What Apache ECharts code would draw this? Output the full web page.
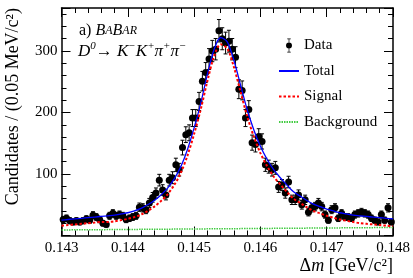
<!DOCTYPE html>
<html><head><meta charset="utf-8">
<script src="https://cdn.jsdelivr.net/npm/echarts@6/dist/echarts.min.js"></script>
<style>html,body{margin:0;padding:0;background:#fff}#c{width:413px;height:278px}</style>
</head><body><div id="c"></div>
<script>
// ---- data ----
const xMin = 0.143, xMax = 0.148, binWidth = 0.00005;
const yMin = 0, yMax = 370;
const xTickLabels = ['0.143', '0.144', '0.145', '0.146', '0.147', '0.148'];
const yTickLabels = [100, 200, 300];
const counts = [
  26, 28, 24, 22, 24, 22, 24, 27, 25, 33,
  30, 26, 20, 18, 32, 36, 32, 34, 32, 26,
  28, 30, 32, 46, 45, 42, 53, 62, 69, 90,
  74, 66, 90, 94, 115, 107, 143, 164, 167, 191,
  191, 218, 251, 265, 287, 300, 303, 333, 320, 313,
  316, 303, 290, 238, 236, 191, 205, 151, 148, 161,
  153, 115, 112, 107, 110, 79, 82, 69, 87, 58,
  58, 66, 50, 58, 38, 45, 47, 53, 47, 34,
  25, 42, 45, 28, 36, 30, 30, 28, 34, 36,
  38, 36, 34, 28, 25, 22, 34, 25, 45, 22
];
const curveStep = 0.0001;
const totalFit = [
  25, 26, 27, 28, 29, 30, 31, 32, 33, 35,
  37, 40, 44, 50, 57, 66, 77, 92, 112, 140,
  175, 215, 262, 302, 322, 315, 285, 245, 205, 172,
  145, 124, 107, 94, 82, 71, 64, 57, 51, 47,
  43, 40, 37, 35, 33, 32, 31, 30, 29, 28,
  27
];
const signalFit = [
  16, 17, 18, 19, 20, 21, 22, 22, 23, 25,
  27, 30, 34, 40, 47, 56, 67, 82, 102, 130,
  165, 205, 251, 291, 311, 304, 274, 234, 194, 161,
  134, 113, 96, 83, 71, 60, 53, 46, 40, 36,
  32, 29, 26, 24, 22, 20, 19, 18, 17, 16,
  15
];
const backgroundFit = [
  9.0, 9.1, 9.2, 9.3, 9.3, 9.4, 9.5, 9.6, 9.7, 9.7,
  9.8, 9.9, 10.0, 10.1, 10.1, 10.2, 10.3, 10.4, 10.5, 10.5,
  10.6, 10.7, 10.8, 10.9, 10.9, 11.0, 11.1, 11.2, 11.3, 11.3,
  11.4, 11.5, 11.6, 11.7, 11.7, 11.8, 11.9, 12.0, 12.1, 12.1,
  12.2, 12.3, 12.4, 12.5, 12.5, 12.6, 12.7, 12.8, 12.9, 12.9,
  13.0
];
const legendNames = ['Data', 'Total', 'Signal', 'Background'];

// ---- build ----
const FONT = 'Liberation Serif';
const dataPts = counts.map((c, i) => [xMin + (i + 0.5) * binWidth, c, Math.sqrt(c)]);
const curve = arr => arr.map((v, k) => [xMin + k * curveStep, v]);

const dataIcon = 'path://M3,0h4v0.8h-4z M4.6,0h0.8v16h-0.8z M3,15.2h4v0.8h-4z M1.6,8a3.4,3.4 0 1,1 6.8,0a3.4,3.4 0 1,1 -6.8,0z';

function xAxisCfg(pos, main) {
  return {
    type: 'value', min: xMin, max: xMax, interval: 0.001, position: pos,
    axisLine: { show: true, onZero: false, lineStyle: { color: '#000', width: 1.5 } },
    axisTick: { show: true, inside: true, length: 9, lineStyle: { color: '#000', width: 1 } },
    minorTick: { show: true, splitNumber: 5, length: 5, lineStyle: { color: '#000', width: 1 } },
    splitLine: { show: false },
    axisLabel: main ? {
      show: true, margin: 5, fontFamily: FONT, fontSize: 15, color: '#000',
      formatter: v => { const i = Math.round((v - xMin) / 0.001); return xTickLabels[i] || ''; }
    } : { show: false },
    name: main ? '{n|Δ}{i|m}{n| [GeV/c²]}' : '',
    nameLocation: 'end', nameGap: 0,
    nameTextStyle: main ? {
      align: 'right', verticalAlign: 'top', padding: [22, 0, 0, 0],
      rich: {
        n: { fontFamily: FONT, fontSize: 18, color: '#000' },
        i: { fontFamily: FONT, fontSize: 18, fontStyle: 'italic', color: '#000' }
      }
    } : {}
  };
}
function yAxisCfg(pos, main) {
  return {
    type: 'value', min: yMin, max: yMax, interval: 100, position: pos,
    axisLine: { show: true, onZero: false, lineStyle: { color: '#000', width: 1.5 } },
    axisTick: { show: true, inside: true, length: 9, lineStyle: { color: '#000', width: 1 } },
    minorTick: { show: true, splitNumber: 5, length: 5, lineStyle: { color: '#000', width: 1 } },
    splitLine: { show: false },
    axisLabel: main ? {
      show: true, margin: 4, fontFamily: FONT, fontSize: 15, color: '#000',
      formatter: v => (yTickLabels.indexOf(Math.round(v)) >= 0 && Math.abs(v - Math.round(v)) < 1e-6) ? String(Math.round(v)) : ''
    } : { show: false },
    name: main ? 'Candidates / (0.05 MeV/c²)' : '',
    nameLocation: 'end', nameRotate: 90, nameGap: 0,
    nameTextStyle: main ? {
      fontFamily: FONT, fontSize: 18, color: '#000',
      align: 'right', verticalAlign: 'bottom', padding: [0, 0, 39, 0]
    } : {}
  };
}

const mainTok = { fontFamily: FONT, fontSize: 17, fontStyle: 'italic', fill: '#000', lineHeight: 22, verticalAlign: 'middle' };
const supTok = { fontFamily: FONT, fontSize: 11, fontStyle: 'italic', fill: '#000', lineHeight: 12, verticalAlign: 'top' };
const arrTok = { fontFamily: FONT, fontSize: 17, fill: '#000', lineHeight: 22, verticalAlign: 'middle' };

const chart = echarts.init(document.getElementById('c'), null, { renderer: 'canvas' });
chart.setOption({
  backgroundColor: '#fff',
  animation: false,
  grid: { left: 61.5, right: 20, top: 8, bottom: 42.5, containLabel: false },
  xAxis: [xAxisCfg('bottom', true), xAxisCfg('top', false)],
  yAxis: [yAxisCfg('left', true), yAxisCfg('right', false)],
  legend: {
    orient: 'vertical', left: 273, top: 33,
    itemWidth: 20, itemHeight: 14, itemGap: 10.5,
    textStyle: { fontFamily: FONT, fontSize: 15, color: '#000' },
    data: [
      { name: legendNames[0], icon: dataIcon },
      { name: legendNames[1], itemStyle: { opacity: 0 } },
      { name: legendNames[2], itemStyle: { opacity: 0 } },
      { name: legendNames[3], itemStyle: { opacity: 0 } }
    ]
  },
  graphic: [
    {
      type: 'text', left: 79, top: 23,
      style: {
        text: '{n|a) }{b|B}{s|A}{b|B}{s|AR}',
        rich: {
          n: { fontFamily: FONT, fontSize: 16, fill: '#000' },
          b: { fontFamily: FONT, fontSize: 16, fontStyle: 'italic', fill: '#000' },
          s: { fontFamily: FONT, fontSize: 12, fontStyle: 'italic', fill: '#000' }
        }
      }
    },
    {
      type: 'text', left: 78, top: 41,
      style: {
        text: '{m|D}{s|0}{a|\u2192 }{m|K}{s|\u2212}{m|K}{s|+}{m|\u03c0}{s|+}{m|\u03c0}{s|\u2212}',
        rich: { m: mainTok, s: supTok, a: arrTok }
      }
    }
  ],
  series: [
    {
      name: legendNames[0], type: 'custom', xAxisIndex: 0, yAxisIndex: 0, z: 2,
      itemStyle: { color: '#000' },
      data: dataPts,
      renderItem: function (params, api) {
        const x = api.value(0), y = api.value(1), e = api.value(2);
        const pT = api.coord([x, y + e]);
        const pB = api.coord([x, y - e]);
        const pM = api.coord([x, y]);
        const cap = 2;
        const st = { stroke: '#000', lineWidth: 1 };
        return {
          type: 'group', children: [
            { type: 'line', shape: { x1: pT[0], y1: pT[1], x2: pB[0], y2: pB[1] }, style: st },
            { type: 'line', shape: { x1: pT[0] - cap, y1: pT[1], x2: pT[0] + cap, y2: pT[1] }, style: st },
            { type: 'line', shape: { x1: pB[0] - cap, y1: pB[1], x2: pB[0] + cap, y2: pB[1] }, style: st },
            { type: 'circle', shape: { cx: pM[0], cy: pM[1], r: 3.5 }, style: { fill: '#000' } }
          ]
        };
      }
    },
    {
      name: legendNames[1], type: 'line', z: 4, symbol: 'none', smooth: 0.3,
      data: curve(totalFit), color: '#0000ff',
      lineStyle: { color: '#0000ff', width: 1.3, type: 'solid' }
    },
    {
      name: legendNames[2], type: 'line', z: 5, symbol: 'none', smooth: 0.3,
      data: curve(signalFit), color: '#ff0000',
      lineStyle: { color: '#ff0000', width: 2, type: [2.5, 2] }
    },
    {
      name: legendNames[3], type: 'line', z: 3, symbol: 'none', smooth: 0.3,
      data: curve(backgroundFit), color: '#44cc44',
      lineStyle: { color: '#44cc44', width: 1.5, type: [1.5, 1] }
    }
  ]
});
</script></body></html>
